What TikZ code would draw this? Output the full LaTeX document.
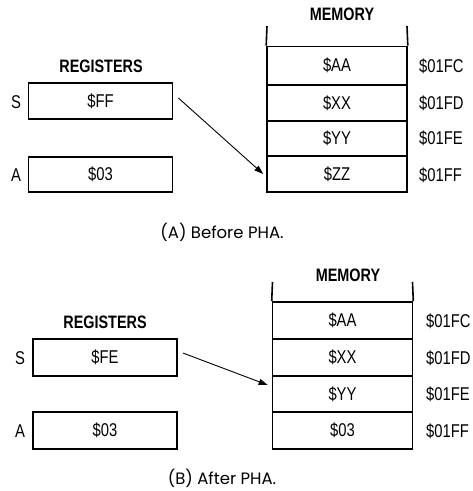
\documentclass[tikz,border=0pt]{standalone}
\usepackage{fontspec}
\setmainfont{Liberation Sans}[FakeStretch=0.8]
\newfontfamily\capfont{Poppins}
\usetikzlibrary{arrows.meta}
\begin{document}
\begin{tikzpicture}[x=1pt,y=-1pt,
  txt/.style={inner sep=0pt,font=\fontsize{18.5}{21}\selectfont},
  head/.style={inner sep=0pt,font=\fontsize{18}{21}\selectfont\bfseries},
  reg/.style={draw,line width=1.8pt,minimum width=144pt,minimum height=35.5pt,inner sep=0pt,font=\fontsize{18.5}{21}\selectfont},
  cell/.style={draw,line width=1.6pt,minimum width=140pt,inner sep=0pt,font=\fontsize{18.5}{21}\selectfont},
  wall/.style={line width=1.6pt},
  ptr/.style={line width=0.9pt,-{Triangle[length=9pt,width=6pt]}},
  caption/.style={inner sep=0pt,font=\capfont\fontsize{16.5}{19}\selectfont}]
\useasboundingbox (0,0) rectangle (473,491);
\fill[white] (0,0) rectangle (473,491);

% ---------- (A) before PHA ----------
\node[head] (memA) at (342,14) {MEMORY};
\node[head] (regA) at (101,66) {REGISTERS};
\node[reg] (sA) at (100.5,101) {\$FF};
\node[reg] (aA) at (100.5,174.5) {\$03};
\node[txt] (lsA) at (16,102) {S};
\node[txt] (laA) at (16,175) {A};
\node[cell,minimum height=38pt] (a1) at (337,65.5) {\$AA};
\node[cell,minimum height=36pt] (a2) at (337,103) {\$XX};
\node[cell,minimum height=35pt] (a3) at (337,138.5) {\$YY};
\node[cell,minimum height=36pt] (a4) at (337,174) {\$ZZ};
\coordinate (a0l) at (267,26);
\coordinate (a0r) at (407,26);
\draw[wall] (a0l) -- (a1.north west);
\draw[wall] (a0r) -- (a1.north east);
\node[txt,anchor=west] (adA1) at (419,66) {\$01FC};
\node[txt,anchor=west] (adA2) at (419,103) {\$01FD};
\node[txt,anchor=west] (adA3) at (419,138.5) {\$01FE};
\node[txt,anchor=west] (adA4) at (419,175) {\$01FF};
\draw[ptr] ([xshift=5pt,yshift=3pt]sA.east) -- ([xshift=-3pt]a4.west);
\node[caption] (capA) at (222,232) {(A) Before PHA.};

% ---------- (B) after PHA ----------
\node[head] (memB) at (348,275) {MEMORY};
\node[head] (regB) at (105,322) {REGISTERS};
\node[reg,minimum height=37pt] (sB) at (105,357.5) {\$FE};
\node[reg,minimum height=37pt] (aB) at (105,430.5) {\$03};
\node[txt] (lsB) at (20,358) {S};
\node[txt] (laB) at (20,431) {A};
\node[cell,minimum height=37pt] (b1) at (342.5,320.5) {\$AA};
\node[cell,minimum height=37pt] (b2) at (342.5,357.5) {\$XX};
\node[cell,minimum height=36pt] (b3) at (342.5,394) {\$YY};
\node[cell,minimum height=37pt] (b4) at (342.5,430.5) {\$03};
\coordinate (b0l) at (272.5,282);
\coordinate (b0r) at (412.5,282);
\draw[wall] (b0l) -- (b1.north west);
\draw[wall] (b0r) -- (b1.north east);
\node[txt,anchor=west] (adB1) at (426,321) {\$01FC};
\node[txt,anchor=west] (adB2) at (426,358) {\$01FD};
\node[txt,anchor=west] (adB3) at (426,394) {\$01FE};
\node[txt,anchor=west] (adB4) at (426,431) {\$01FF};
\draw[ptr] ([xshift=5pt,yshift=4.5pt]sB.east) -- ([xshift=-4pt,yshift=9pt]b3.west);
\node[caption] (capB) at (222,478) {(B) After PHA.};
\end{tikzpicture}
\end{document}
